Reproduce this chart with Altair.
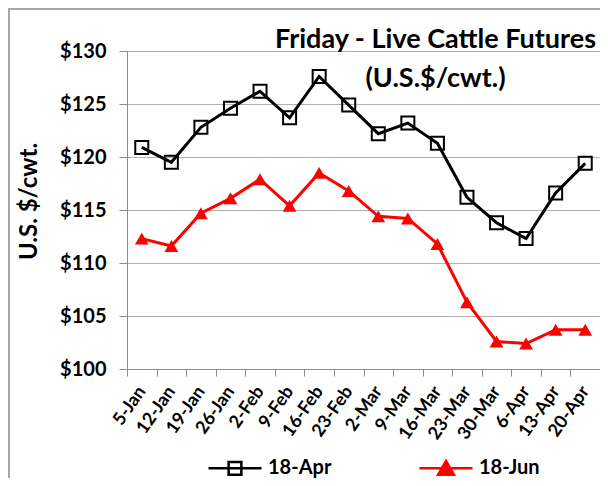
import altair as alt
import pandas as pd

dates = ["5-Jan", "12-Jan", "19-Jan", "26-Jan", "2-Feb", "9-Feb", "16-Feb", "23-Feb",
         "2-Mar", "9-Mar", "16-Mar", "23-Mar", "30-Mar", "6-Apr", "13-Apr", "20-Apr"]
apr18 = [120.9, 119.5, 122.8, 124.6, 126.2, 123.7, 127.6, 124.9,
         122.2, 123.2, 121.3, 116.2, 113.8, 112.3, 116.6, 119.4]
jun18 = [112.3, 111.6, 114.7, 116.1, 117.9, 115.4, 118.5, 116.8,
         114.4, 114.2, 111.8, 106.3, 102.6, 102.4, 103.7, 103.7]
series = ["18-Apr", "18-Jun"]
colors = ["#000000", "#ff0000"]
y_ticks = [100, 105, 110, 115, 120, 125, 130]

rows = []
for d, a, j in zip(dates, apr18, jun18):
    rows.append({"date": d, "series": series[0], "value": a})
    rows.append({"date": d, "series": series[1], "value": j})
df = pd.DataFrame(rows)

FONT = "Lato"
GRAY = "#8c8c8c"

sq_path = "M-1,0H1M-0.24,-0.24H0.24V0.24H-0.24Z"
tri_path = "M-1,0H1M0,-0.28L0.3,0.24H-0.3Z"

x_enc = alt.X("date:N", sort=dates,
              scale=alt.Scale(type="band", paddingInner=0, paddingOuter=0),
              axis=alt.Axis(title=None, tickBand="extent", labelAngle=-55,
                            labelFont=FONT, labelFontSize=18, labelFontWeight="bold",
                            labelColor="black", labelPadding=12, tickSize=7,
                            tickColor=GRAY, domainColor=GRAY, grid=False))
y_enc = alt.Y("value:Q", scale=alt.Scale(domain=[100, 130], nice=False, zero=False),
              axis=alt.Axis(title="U.S. $/cwt.", values=y_ticks,
                            labelExpr="'$' + datum.value",
                            labelFont=FONT, labelFontSize=20, labelFontWeight="bold",
                            labelColor="black", labelPadding=13, tickSize=8,
                            tickColor=GRAY, domainColor=GRAY, gridColor="#b0b0b0",
                            titleFont=FONT, titleFontSize=24, titleFontWeight="bold",
                            titleColor="black", titleX=-86, titleY=150))

base = alt.Chart(df)

lines = base.mark_line(strokeWidth=3).encode(
    x=x_enc, y=y_enc,
    color=alt.Color("series:N", scale=alt.Scale(domain=series, range=colors),
                    legend=alt.Legend(
                        orient="none", legendX=80, legendY=389, direction="horizontal",
                        title=None, symbolSize=2809, symbolStrokeWidth=2.5,
                        labelFont=FONT, labelFontSize=20, labelFontWeight="bold",
                        labelColor="black", labelOffset=5, columnPadding=82, padding=0,
                        symbolType=alt.ExprRef(expr="datum.value === '18-Apr' ? '" + sq_path + "' : '" + tri_path + "'"),
                        symbolFillColor=alt.ExprRef(expr="datum.value === '18-Apr' ? 'transparent' : '#ff0000'"),
                    )),
)

pts_apr = base.transform_filter(alt.datum.series == series[0]).mark_point(
    shape="square", filled=False, size=169, strokeWidth=2, color=colors[0], opacity=1
).encode(x=alt.X("date:N", sort=dates), y="value:Q")

pts_jun = base.transform_filter(alt.datum.series == series[1]).mark_point(
    shape="triangle-up", filled=True, size=190, color=colors[1], opacity=1
).encode(x=alt.X("date:N", sort=dates), y="value:Q")

frame = alt.Chart(pd.DataFrame({"f": [0]})).mark_rect(
    fill=None, stroke="#a6a6a6", strokeWidth=2
).encode(x=alt.value(-118), y=alt.value(-42), x2=alt.value(700), y2=alt.value(700))

chart = alt.layer(frame, lines, pts_apr, pts_jun).properties(
    width=473, height=318,
    autosize=alt.AutoSizeParams(type="none"),
    padding={"left": 119, "top": 43, "right": 0, "bottom": 109},
    title=alt.TitleParams(
        text=["Friday - Live Cattle Futures", "(U.S.$/cwt.)"],
        anchor="middle", dx=72, offset=-85, lineHeight=39,
        font=FONT, fontSize=27, fontWeight="bold", color="black",
    ),
).configure_view(stroke=None).configure(background="white")

chart.save("out.html", embed_options={"renderer": "svg", "actions": False})
